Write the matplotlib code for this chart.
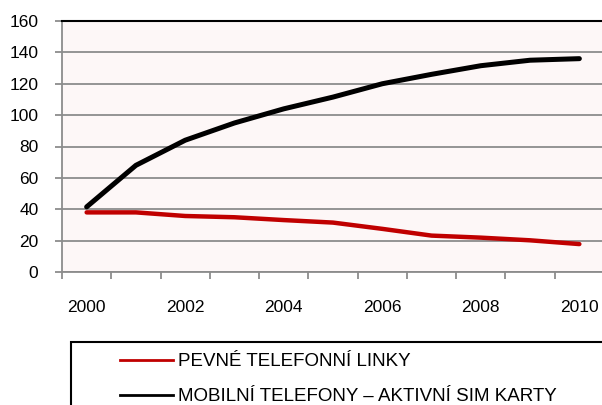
import numpy as np
import matplotlib
matplotlib.use("Agg")
import matplotlib.pyplot as plt
from matplotlib.lines import Line2D
from matplotlib.patches import Rectangle

YEARS = [2000, 2001, 2002, 2003, 2004, 2005, 2006, 2007, 2008, 2009, 2010]
FIXED = [38, 38, 35.7, 34.9, 33.1, 31.5, 27.5, 23.2, 21.9, 20.2, 17.8]
MOBILE = [41.5, 68, 84, 95, 104, 111.5, 120, 126, 131.5, 135, 136]
LABELS = ["PEVNÉ TELEFONNÍ LINKY", "MOBILNÍ TELEFONY – AKTIVNÍ SIM KARTY"]

RED, BLACK, GRID = "#c00000", "#000000", "#8c8c8c"
BG = "#fdf7f7"

W, H = 602, 405
plt.rcParams.update({"font.family": ["Liberation Sans", "DejaVu Sans"], "font.size": 12.5})

fig = plt.figure(figsize=(W / 100, H / 100), dpi=100)
ax = fig.add_axes([62 / W, 1 - 272 / H, 542 / W, 251 / H])
ax.set_facecolor(BG)

x = np.arange(len(YEARS))
ax.plot(x, FIXED, color=RED, lw=3.2, solid_capstyle="round", zorder=3)
ax.plot(x, MOBILE, color=BLACK, lw=3.6, solid_capstyle="round", zorder=4)

ax.set_xlim(-0.5, len(YEARS) - 0.5)
ax.set_ylim(0, 160)
ax.set_yticks(np.arange(0, 161, 20))
ax.grid(axis="y", color=GRID, lw=1.3, zorder=1)
ax.set_axisbelow(True)

ax.set_xticks(x[::2])
ax.set_xticklabels([str(y) for y in YEARS[::2]])
ax.set_xticks(np.arange(-0.5, len(YEARS), 1), minor=True)
ax.tick_params(axis="x", which="major", length=0, pad=20)
ax.tick_params(axis="x", which="minor", length=5, color=GRID, width=1.3)
ax.tick_params(axis="y", length=5, color=GRID, width=1.3, pad=12)

ax.spines["right"].set_visible(False)
ax.spines["top"].set_color(BLACK)
ax.spines["top"].set_linewidth(1.5)
for s in ("left", "bottom"):
    ax.spines[s].set_color(GRID)
    ax.spines[s].set_linewidth(1.3)

# legend frame runs past the figure edge, as in the source
fig.add_artist(Rectangle((71 / W, 1 - 430 / H), 535 / W, 88 / H,
                         transform=fig.transFigure, facecolor="white",
                         edgecolor=BLACK, lw=1.5, zorder=0))
handles = [Line2D([], [], color=RED, lw=2), Line2D([], [], color=BLACK, lw=2)]
fig.legend(handles, LABELS, loc="upper left", bbox_to_anchor=(120 / W, 1 - 353 / H),
           frameon=False, borderpad=0, borderaxespad=0, handlelength=2.8,
           handletextpad=0.3, labelspacing=0.95, fontsize=13.5)

fig.savefig("out.png", dpi=100)
